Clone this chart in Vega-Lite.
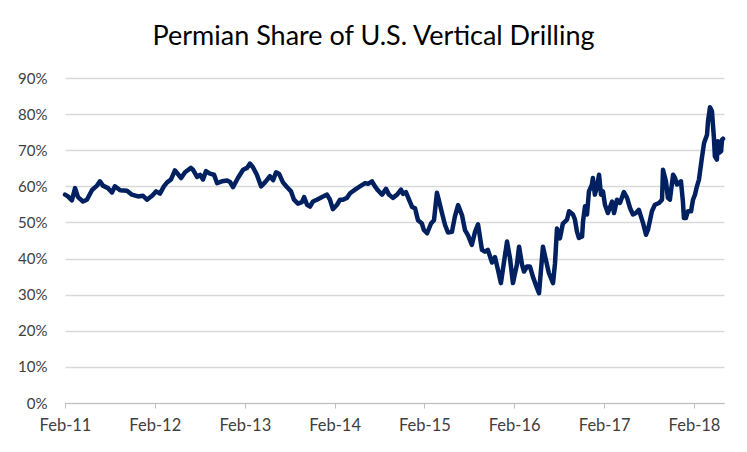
{
  "$schema": "https://vega.github.io/schema/vega-lite/v6.json",
  "width": 659,
  "height": 325,
  "autosize": {"type": "none"},
  "padding": {"left": 65, "top": 78, "right": 23, "bottom": 49},
  "background": "white",
  "title": {
    "text": "Permian Share of U.S. Vertical Drilling",
    "font": "Lato",
    "fontSize": 27,
    "fontWeight": "normal",
    "color": "#000000",
    "anchor": "middle",
    "frame": "group",
    "dx": -21,
    "offset": 20
  },
  "config": {
    "view": {"stroke": null},
    "axis": {"labelFont": "Lato", "labelFontSize": 15, "labelColor": "#595959", "title": null}
  },
  "data": {
    "values": [
      {"date": "2011-02-01", "share": 57.7},
      {"date": "2011-02-13", "share": 57.2},
      {"date": "2011-03-01", "share": 56.1},
      {"date": "2011-03-14", "share": 59.5},
      {"date": "2011-03-26", "share": 57.0},
      {"date": "2011-04-15", "share": 55.8},
      {"date": "2011-05-01", "share": 56.3},
      {"date": "2011-05-22", "share": 59.0},
      {"date": "2011-06-11", "share": 60.2},
      {"date": "2011-06-23", "share": 61.4},
      {"date": "2011-07-05", "share": 60.2},
      {"date": "2011-07-26", "share": 59.5},
      {"date": "2011-08-11", "share": 58.3},
      {"date": "2011-08-23", "share": 60.0},
      {"date": "2011-09-13", "share": 58.9},
      {"date": "2011-10-11", "share": 58.8},
      {"date": "2011-10-31", "share": 57.7},
      {"date": "2011-11-25", "share": 57.2},
      {"date": "2011-12-15", "share": 57.4},
      {"date": "2011-12-31", "share": 56.3},
      {"date": "2012-01-21", "share": 57.4},
      {"date": "2012-02-06", "share": 58.6},
      {"date": "2012-02-22", "share": 58.0},
      {"date": "2012-03-09", "share": 60.0},
      {"date": "2012-03-22", "share": 61.1},
      {"date": "2012-04-07", "share": 61.9},
      {"date": "2012-04-23", "share": 64.4},
      {"date": "2012-05-18", "share": 62.3},
      {"date": "2012-06-03", "share": 63.9},
      {"date": "2012-06-27", "share": 65.1},
      {"date": "2012-07-05", "share": 64.6},
      {"date": "2012-07-22", "share": 62.6},
      {"date": "2012-08-03", "share": 63.2},
      {"date": "2012-08-15", "share": 61.9},
      {"date": "2012-08-27", "share": 64.2},
      {"date": "2012-09-12", "share": 63.5},
      {"date": "2012-09-29", "share": 63.2},
      {"date": "2012-10-11", "share": 60.9},
      {"date": "2012-10-31", "share": 61.4},
      {"date": "2012-11-21", "share": 61.6},
      {"date": "2012-12-03", "share": 61.2},
      {"date": "2012-12-15", "share": 59.8},
      {"date": "2013-01-04", "share": 62.3},
      {"date": "2013-01-25", "share": 64.6},
      {"date": "2013-02-10", "share": 65.1},
      {"date": "2013-02-22", "share": 66.3},
      {"date": "2013-03-06", "share": 65.3},
      {"date": "2013-03-22", "share": 63.2},
      {"date": "2013-04-08", "share": 60.0},
      {"date": "2013-04-24", "share": 61.1},
      {"date": "2013-05-14", "share": 62.8},
      {"date": "2013-05-27", "share": 61.7},
      {"date": "2013-06-08", "share": 63.9},
      {"date": "2013-06-20", "share": 63.5},
      {"date": "2013-07-06", "share": 61.1},
      {"date": "2013-07-22", "share": 59.8},
      {"date": "2013-08-08", "share": 58.6},
      {"date": "2013-08-20", "share": 56.3},
      {"date": "2013-09-05", "share": 55.2},
      {"date": "2013-09-21", "share": 55.6},
      {"date": "2013-09-30", "share": 57.0},
      {"date": "2013-10-12", "share": 54.9},
      {"date": "2013-10-24", "share": 54.4},
      {"date": "2013-11-05", "share": 55.8},
      {"date": "2013-11-21", "share": 56.3},
      {"date": "2013-12-16", "share": 57.2},
      {"date": "2014-01-01", "share": 57.7},
      {"date": "2014-01-13", "share": 56.3},
      {"date": "2014-01-25", "share": 53.7},
      {"date": "2014-02-11", "share": 54.9},
      {"date": "2014-02-23", "share": 56.3},
      {"date": "2014-03-07", "share": 56.3},
      {"date": "2014-03-23", "share": 56.8},
      {"date": "2014-04-05", "share": 58.1},
      {"date": "2014-04-25", "share": 59.1},
      {"date": "2014-05-15", "share": 60.0},
      {"date": "2014-06-05", "share": 60.9},
      {"date": "2014-06-17", "share": 60.7},
      {"date": "2014-07-03", "share": 61.4},
      {"date": "2014-07-15", "share": 60.0},
      {"date": "2014-07-27", "share": 58.9},
      {"date": "2014-08-13", "share": 57.7},
      {"date": "2014-08-29", "share": 59.3},
      {"date": "2014-09-10", "share": 57.7},
      {"date": "2014-09-26", "share": 56.8},
      {"date": "2014-10-13", "share": 57.7},
      {"date": "2014-10-29", "share": 59.1},
      {"date": "2014-11-06", "share": 57.9},
      {"date": "2014-11-18", "share": 58.4},
      {"date": "2014-11-30", "share": 56.4},
      {"date": "2014-12-13", "share": 54.3},
      {"date": "2014-12-25", "share": 53.9},
      {"date": "2015-01-06", "share": 50.6},
      {"date": "2015-01-22", "share": 49.7},
      {"date": "2015-01-30", "share": 47.9},
      {"date": "2015-02-12", "share": 47.0},
      {"date": "2015-02-28", "share": 49.7},
      {"date": "2015-03-12", "share": 50.6},
      {"date": "2015-03-24", "share": 58.2},
      {"date": "2015-04-01", "share": 56.1},
      {"date": "2015-04-14", "share": 52.5},
      {"date": "2015-04-26", "share": 49.3},
      {"date": "2015-05-08", "share": 47.2},
      {"date": "2015-05-24", "share": 47.4},
      {"date": "2015-06-05", "share": 51.6},
      {"date": "2015-06-18", "share": 54.8},
      {"date": "2015-07-04", "share": 52.0},
      {"date": "2015-07-16", "share": 47.9},
      {"date": "2015-07-28", "share": 46.5},
      {"date": "2015-08-13", "share": 43.8},
      {"date": "2015-08-26", "share": 47.4},
      {"date": "2015-09-07", "share": 49.5},
      {"date": "2015-09-23", "share": 42.4},
      {"date": "2015-10-05", "share": 41.9},
      {"date": "2015-10-17", "share": 42.4},
      {"date": "2015-11-03", "share": 38.9},
      {"date": "2015-11-15", "share": 40.4},
      {"date": "2015-11-27", "share": 36.9},
      {"date": "2015-12-09", "share": 33.2},
      {"date": "2015-12-22", "share": 39.2},
      {"date": "2016-01-03", "share": 44.7},
      {"date": "2016-01-15", "share": 40.1},
      {"date": "2016-01-27", "share": 33.2},
      {"date": "2016-02-12", "share": 38.3},
      {"date": "2016-02-21", "share": 43.3},
      {"date": "2016-03-04", "share": 38.3},
      {"date": "2016-03-12", "share": 36.4},
      {"date": "2016-03-24", "share": 37.8},
      {"date": "2016-04-05", "share": 37.8},
      {"date": "2016-04-17", "share": 35.0},
      {"date": "2016-05-04", "share": 31.8},
      {"date": "2016-05-12", "share": 30.4},
      {"date": "2016-05-28", "share": 43.3},
      {"date": "2016-06-09", "share": 39.6},
      {"date": "2016-06-21", "share": 36.0},
      {"date": "2016-07-08", "share": 33.2},
      {"date": "2016-07-16", "share": 38.7},
      {"date": "2016-07-24", "share": 48.3},
      {"date": "2016-08-05", "share": 45.6},
      {"date": "2016-08-17", "share": 49.7},
      {"date": "2016-09-03", "share": 50.8},
      {"date": "2016-09-11", "share": 53.1},
      {"date": "2016-09-27", "share": 52.2},
      {"date": "2016-10-05", "share": 50.8},
      {"date": "2016-10-13", "share": 47.5},
      {"date": "2016-10-21", "share": 45.7},
      {"date": "2016-11-03", "share": 46.1},
      {"date": "2016-11-07", "share": 50.3},
      {"date": "2016-11-15", "share": 54.5},
      {"date": "2016-11-23", "share": 52.2},
      {"date": "2016-12-01", "share": 58.6},
      {"date": "2016-12-13", "share": 60.5},
      {"date": "2016-12-17", "share": 62.3},
      {"date": "2016-12-25", "share": 57.7},
      {"date": "2017-01-03", "share": 60.0},
      {"date": "2017-01-11", "share": 63.2},
      {"date": "2017-01-19", "share": 57.7},
      {"date": "2017-01-27", "share": 58.6},
      {"date": "2017-02-04", "share": 54.9},
      {"date": "2017-02-16", "share": 52.6},
      {"date": "2017-03-05", "share": 55.8},
      {"date": "2017-03-13", "share": 52.6},
      {"date": "2017-03-25", "share": 56.3},
      {"date": "2017-04-06", "share": 55.4},
      {"date": "2017-04-22", "share": 58.4},
      {"date": "2017-05-05", "share": 56.8},
      {"date": "2017-05-17", "share": 54.0},
      {"date": "2017-05-29", "share": 52.2},
      {"date": "2017-06-10", "share": 52.6},
      {"date": "2017-06-22", "share": 53.5},
      {"date": "2017-07-09", "share": 49.8},
      {"date": "2017-07-21", "share": 46.6},
      {"date": "2017-07-29", "share": 48.0},
      {"date": "2017-08-14", "share": 53.1},
      {"date": "2017-08-26", "share": 54.9},
      {"date": "2017-09-12", "share": 55.4},
      {"date": "2017-09-24", "share": 56.3},
      {"date": "2017-09-28", "share": 64.6},
      {"date": "2017-10-10", "share": 61.4},
      {"date": "2017-10-18", "share": 56.8},
      {"date": "2017-10-26", "share": 56.3},
      {"date": "2017-11-08", "share": 63.2},
      {"date": "2017-11-16", "share": 62.3},
      {"date": "2017-11-24", "share": 60.5},
      {"date": "2017-12-10", "share": 61.4},
      {"date": "2017-12-18", "share": 55.8},
      {"date": "2017-12-22", "share": 51.2},
      {"date": "2017-12-30", "share": 51.2},
      {"date": "2018-01-07", "share": 53.1},
      {"date": "2018-01-20", "share": 53.1},
      {"date": "2018-01-28", "share": 56.3},
      {"date": "2018-02-05", "share": 57.7},
      {"date": "2018-02-13", "share": 60.0},
      {"date": "2018-02-21", "share": 61.8},
      {"date": "2018-03-05", "share": 67.8},
      {"date": "2018-03-14", "share": 72.0},
      {"date": "2018-03-26", "share": 74.3},
      {"date": "2018-03-30", "share": 78.0},
      {"date": "2018-04-07", "share": 81.9},
      {"date": "2018-04-15", "share": 80.8},
      {"date": "2018-04-19", "share": 77.1},
      {"date": "2018-04-23", "share": 73.4},
      {"date": "2018-04-27", "share": 68.3},
      {"date": "2018-05-05", "share": 67.4},
      {"date": "2018-05-09", "share": 72.5},
      {"date": "2018-05-13", "share": 69.2},
      {"date": "2018-05-22", "share": 69.7},
      {"date": "2018-05-26", "share": 72.9},
      {"date": "2018-05-30", "share": 73.2}
    ]
  },
  "mark": {"type": "line", "color": "#002060", "strokeWidth": 4.5, "strokeJoin": "round", "strokeCap": "round"},
  "encoding": {
    "x": {
      "field": "date",
      "type": "temporal",
      "scale": {"type": "utc", "domain": [{"year": 2011, "month": 2, "date": 1, "utc": true}, {"year": 2018, "month": 6, "date": 3, "utc": true}]},
      "axis": {
        "values": [
          {"year": 2011, "month": 2, "date": 1, "utc": true},
          {"year": 2012, "month": 2, "date": 1, "utc": true},
          {"year": 2013, "month": 2, "date": 1, "utc": true},
          {"year": 2014, "month": 2, "date": 1, "utc": true},
          {"year": 2015, "month": 2, "date": 1, "utc": true},
          {"year": 2016, "month": 2, "date": 1, "utc": true},
          {"year": 2017, "month": 2, "date": 1, "utc": true},
          {"year": 2018, "month": 2, "date": 1, "utc": true}
        ],
        "labelExpr": "utcFormat(datum.value, '%b-%y')",
        "labelFontSize": 16.5,
        "labelColor": "#404040",
        "grid": false,
        "domainColor": "#bfbfbf",
        "tickColor": "#bfbfbf",
        "tickSize": 5,
        "labelPadding": 9,
        "labelFlush": false,
        "labelOverlap": false
      }
    },
    "y": {
      "field": "share",
      "type": "quantitative",
      "scale": {"domain": [0, 90], "nice": false},
      "axis": {
        "values": [0, 10, 20, 30, 40, 50, 60, 70, 80, 90],
        "labelExpr": "datum.value + '%'",
        "labelColor": "#404040",
        "domain": false,
        "ticks": false,
        "labelPadding": 18,
        "gridColor": "#d9d9d9",
        "gridWidth": 1.3
      }
    }
  }
}
